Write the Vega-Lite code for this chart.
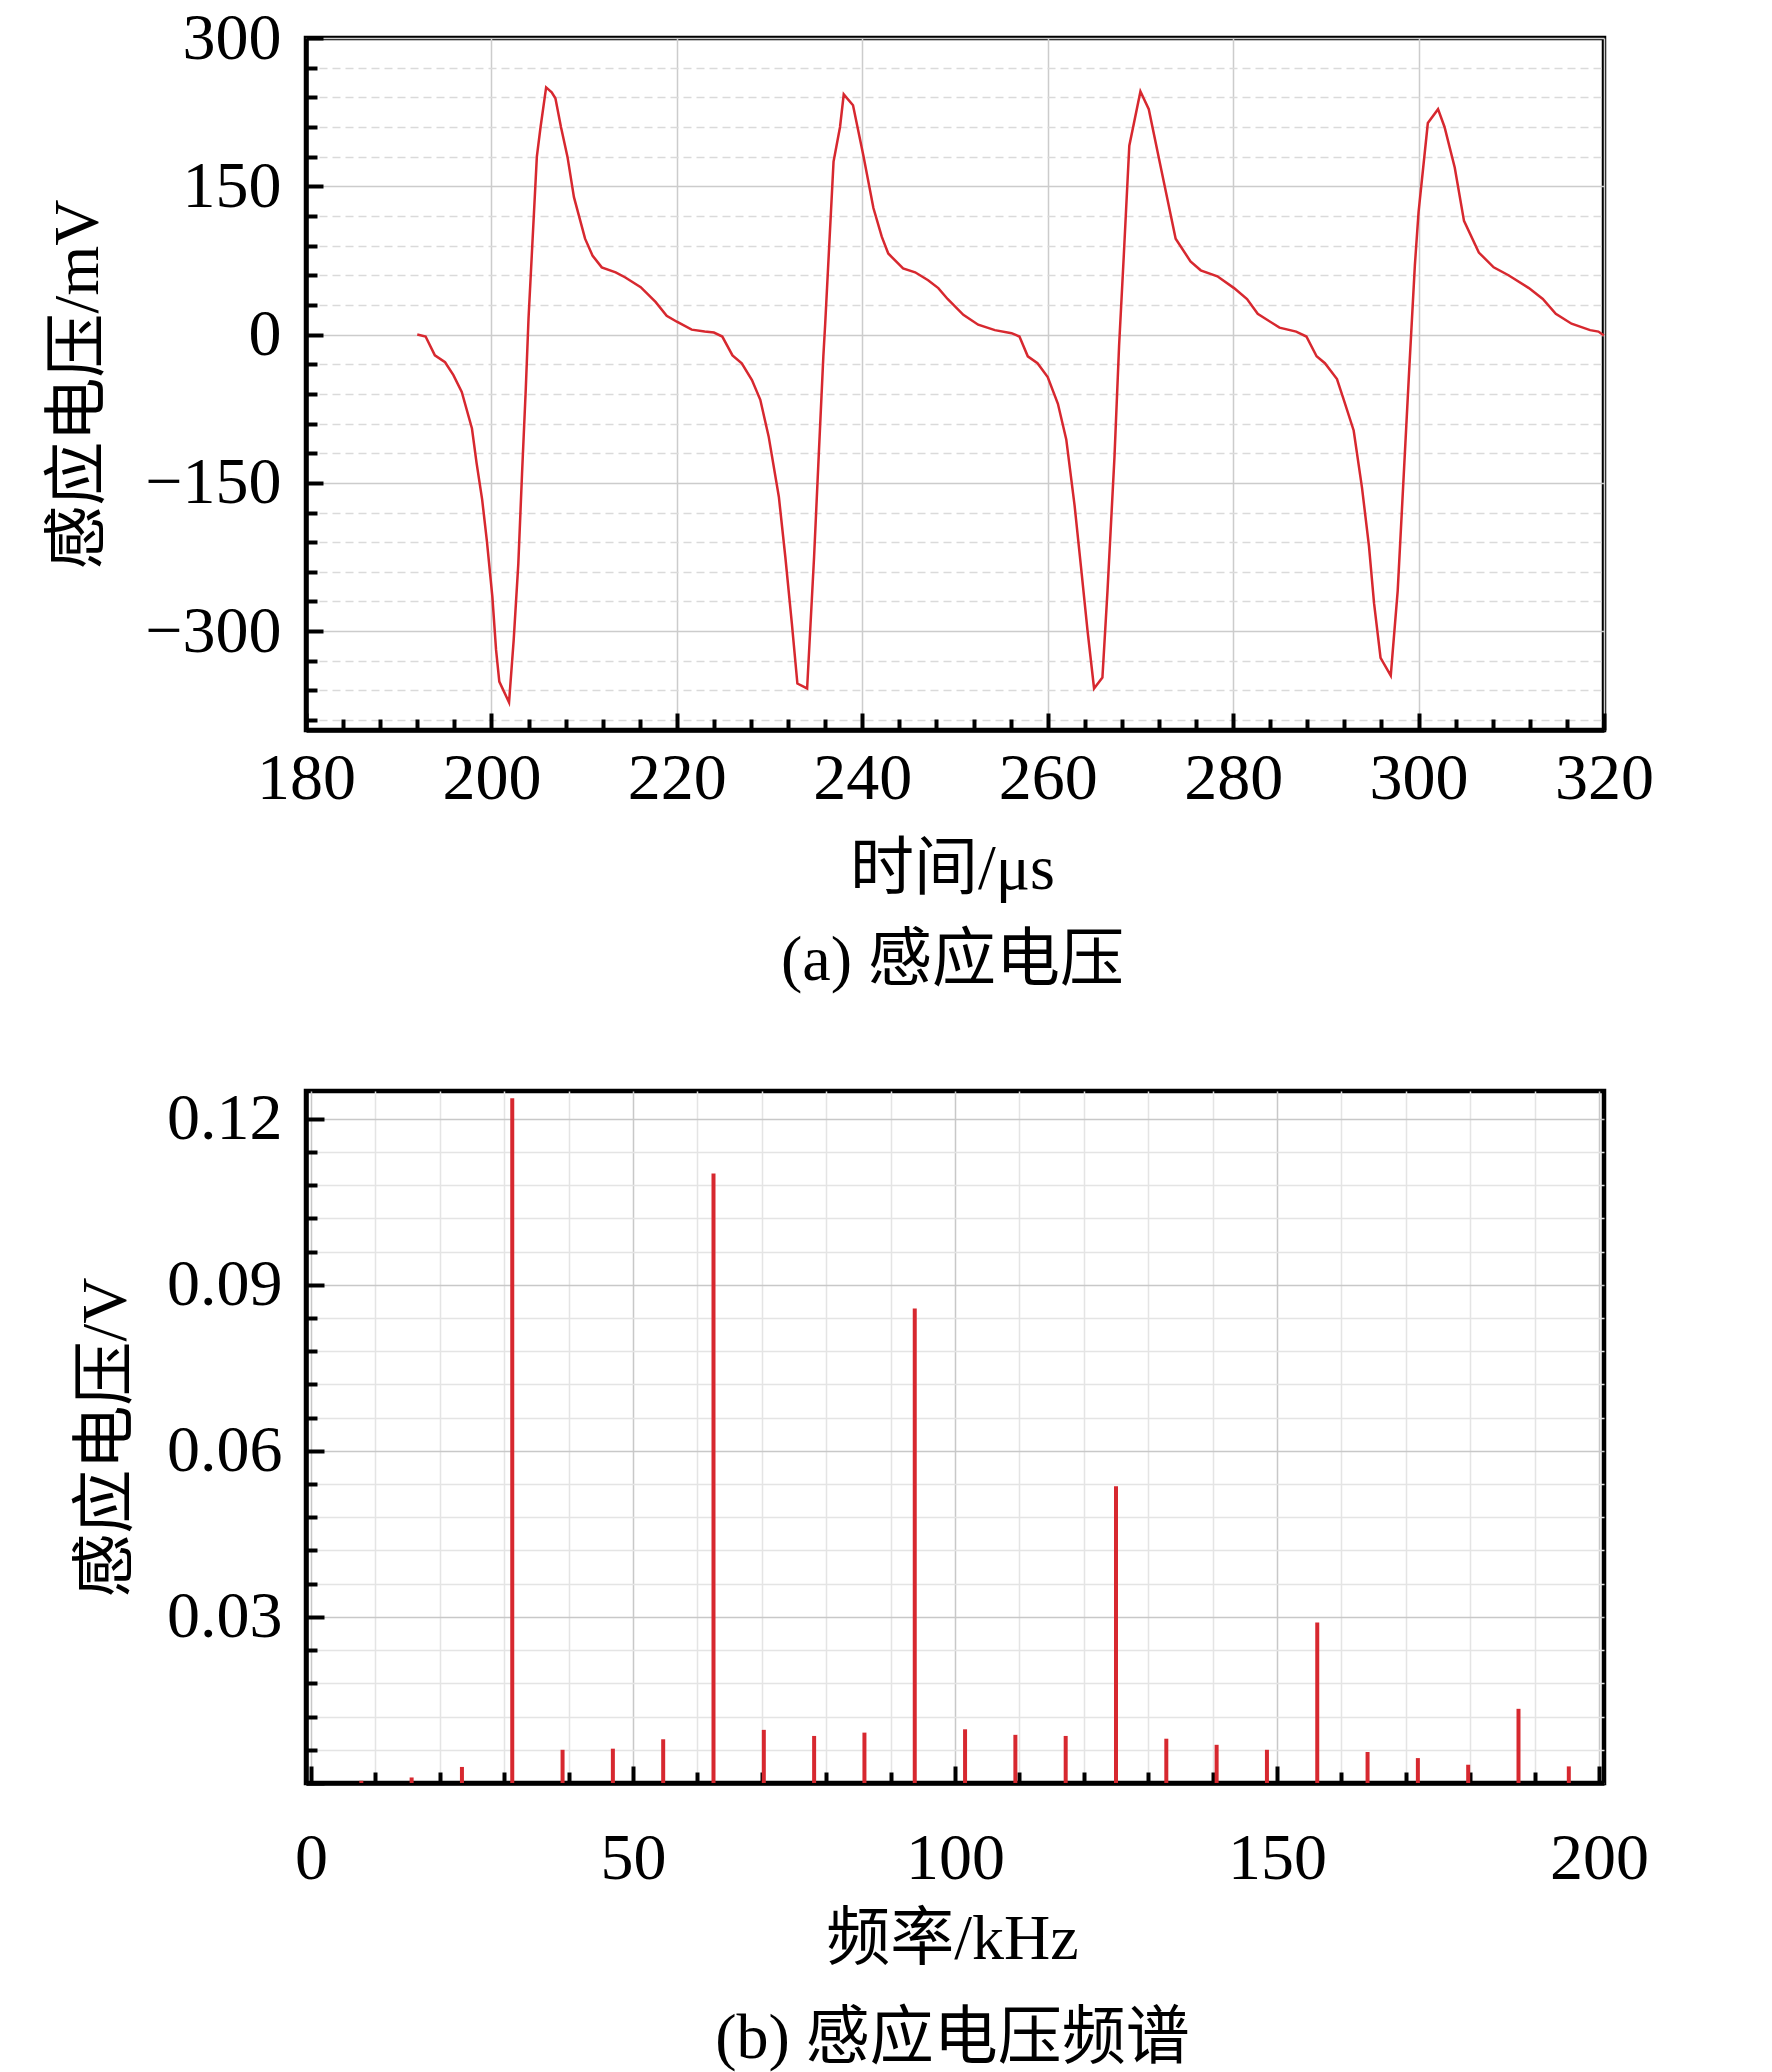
{
  "$schema": "https://vega.github.io/schema/vega-lite/v6.json",
  "background": "white",
  "padding": {"left": 43, "top": 2, "right": 10, "bottom": 5},
  "config": {
    "view": {"stroke": "black", "strokeWidth": 4.5},
    "axis": {
      "domainColor": "black",
      "domainWidth": 4.5,
      "tickColor": "black",
      "tickWidth": 4,
      "labelFont": "Liberation Serif",
      "labelFontSize": 66,
      "labelColor": "black",
      "titleFont": "Liberation Serif, Noto Sans CJK SC",
      "titleFontSize": 64,
      "titleFontWeight": "normal",
      "titleColor": "black",
      "gridWidth": 1.5
    }
  },
  "bounds": "flush",
  "spacing": 361,
  "datasets": {
    "wave": [
      {"t": 192.0, "v": 0}, {"t": 192.9, "v": -2}, {"t": 193.9, "v": -21}, {"t": 195.0, "v": -28},
      {"t": 195.9, "v": -41}, {"t": 196.8, "v": -58}, {"t": 197.9, "v": -95}, {"t": 198.4, "v": -130},
      {"t": 199.0, "v": -167}, {"t": 199.5, "v": -208}, {"t": 200.1, "v": -265}, {"t": 200.5, "v": -319},
      {"t": 200.85, "v": -351}, {"t": 201.9, "v": -372}, {"t": 202.4, "v": -309}, {"t": 202.9, "v": -232},
      {"t": 203.3, "v": -141}, {"t": 203.7, "v": -56}, {"t": 204.0, "v": 16}, {"t": 204.9, "v": 180},
      {"t": 205.3, "v": 210}, {"t": 205.9, "v": 250}, {"t": 206.5, "v": 245}, {"t": 206.9, "v": 239},
      {"t": 207.5, "v": 210}, {"t": 208.2, "v": 180}, {"t": 208.9, "v": 139}, {"t": 210.1, "v": 97},
      {"t": 210.9, "v": 80}, {"t": 211.9, "v": 68}, {"t": 213.4, "v": 63}, {"t": 214.4, "v": 58},
      {"t": 216.1, "v": 48}, {"t": 217.7, "v": 33}, {"t": 218.9, "v": 19}, {"t": 220.0, "v": 13},
      {"t": 221.6, "v": 5}, {"t": 223.0, "v": 3}, {"t": 224.0, "v": 2}, {"t": 224.9, "v": -2},
      {"t": 226.0, "v": -21}, {"t": 227.0, "v": -29}, {"t": 228.1, "v": -46}, {"t": 229.0, "v": -66},
      {"t": 229.9, "v": -103}, {"t": 231.0, "v": -164}, {"t": 231.7, "v": -225}, {"t": 232.4, "v": -292},
      {"t": 233.0, "v": -353}, {"t": 234.05, "v": -358}, {"t": 234.8, "v": -225}, {"t": 235.3, "v": -123},
      {"t": 235.8, "v": -22}, {"t": 236.0, "v": 11}, {"t": 236.9, "v": 175}, {"t": 237.6, "v": 210},
      {"t": 238.0, "v": 243}, {"t": 239.0, "v": 232}, {"t": 240.1, "v": 182}, {"t": 241.2, "v": 128},
      {"t": 242.1, "v": 99}, {"t": 242.8, "v": 82}, {"t": 244.4, "v": 67}, {"t": 245.7, "v": 63},
      {"t": 247.1, "v": 55}, {"t": 248.2, "v": 47}, {"t": 249.2, "v": 36}, {"t": 250.9, "v": 20},
      {"t": 252.5, "v": 10}, {"t": 254.3, "v": 4.5}, {"t": 256.1, "v": 1.4}, {"t": 256.95, "v": -2},
      {"t": 257.85, "v": -22}, {"t": 258.9, "v": -29}, {"t": 260.0, "v": -43}, {"t": 261.1, "v": -70},
      {"t": 262.0, "v": -106}, {"t": 262.9, "v": -173}, {"t": 263.6, "v": -236}, {"t": 264.3, "v": -300},
      {"t": 265.0, "v": -358}, {"t": 265.9, "v": -347}, {"t": 266.45, "v": -259}, {"t": 267.2, "v": -124},
      {"t": 267.7, "v": -11}, {"t": 268.2, "v": 79}, {"t": 268.8, "v": 191}, {"t": 270.0, "v": 246},
      {"t": 270.9, "v": 228}, {"t": 272.2, "v": 169}, {"t": 273.8, "v": 97}, {"t": 275.4, "v": 74},
      {"t": 276.5, "v": 65}, {"t": 278.3, "v": 59}, {"t": 280.1, "v": 47}, {"t": 281.5, "v": 36},
      {"t": 282.65, "v": 21}, {"t": 285.0, "v": 7}, {"t": 286.8, "v": 3}, {"t": 287.9, "v": -2},
      {"t": 289.0, "v": -22}, {"t": 289.9, "v": -29}, {"t": 291.2, "v": -45}, {"t": 291.9, "v": -65},
      {"t": 293.0, "v": -97}, {"t": 293.9, "v": -155}, {"t": 294.65, "v": -214}, {"t": 295.2, "v": -272},
      {"t": 295.9, "v": -327}, {"t": 297.0, "v": -345}, {"t": 297.75, "v": -259}, {"t": 298.5, "v": -124},
      {"t": 299.0, "v": -34}, {"t": 299.6, "v": 70}, {"t": 300.0, "v": 124}, {"t": 300.5, "v": 169},
      {"t": 301.0, "v": 214}, {"t": 302.1, "v": 228}, {"t": 302.8, "v": 210}, {"t": 303.9, "v": 169},
      {"t": 304.9, "v": 115}, {"t": 306.5, "v": 83}, {"t": 308.1, "v": 68}, {"t": 309.7, "v": 60},
      {"t": 311.9, "v": 47}, {"t": 313.4, "v": 36}, {"t": 314.8, "v": 21}, {"t": 316.5, "v": 11},
      {"t": 318.5, "v": 4.5}, {"t": 319.4, "v": 3}, {"t": 320.0, "v": -1}
    ],
    "spectrum": [
      {"f": 7.8125, "a": 0.0004}, {"f": 15.625, "a": 0.001}, {"f": 23.4375, "a": 0.0029},
      {"f": 31.25, "a": 0.1237}, {"f": 39.0625, "a": 0.006}, {"f": 46.875, "a": 0.0062},
      {"f": 54.6875, "a": 0.0079}, {"f": 62.5, "a": 0.1101}, {"f": 70.3125, "a": 0.0096},
      {"f": 78.125, "a": 0.0085}, {"f": 85.9375, "a": 0.0091}, {"f": 93.75, "a": 0.0857},
      {"f": 101.5625, "a": 0.0097}, {"f": 109.375, "a": 0.0087}, {"f": 117.1875, "a": 0.0085},
      {"f": 125.0, "a": 0.0536}, {"f": 132.8125, "a": 0.008}, {"f": 140.625, "a": 0.0069},
      {"f": 148.4375, "a": 0.006}, {"f": 156.25, "a": 0.029}, {"f": 164.0625, "a": 0.0056},
      {"f": 171.875, "a": 0.0045}, {"f": 179.6875, "a": 0.0033}, {"f": 187.5, "a": 0.0134},
      {"f": 195.3125, "a": 0.003}
    ]
  },
  "vconcat": [
    {
      "width": 1298,
      "height": 692,
      "data": {"name": "wave"},
      "mark": {"type": "line", "color": "#d7282f", "strokeWidth": 2.5},
      "encoding": {
        "x": {
          "field": "t", "type": "quantitative",
          "scale": {"domain": [180, 320], "nice": false, "zero": false},
          "axis": {
            "values": [180,184,188,192,196,200,204,208,212,216,220,224,228,232,236,240,244,248,252,256,260,264,268,272,276,280,284,288,292,296,300,304,308,312,316,320],
            "labelExpr": "datum.value % 20 === 0 ? datum.label : ''",
            "tickSize": {"condition": {"test": "datum.value % 20 === 0", "value": -17}, "value": -11},
            "labelPadding": 33,
            "labelFlush": false,
            "labelOverlap": false,
            "grid": true,
            "gridColor": "#cccccc",
            "gridOpacity": {"condition": {"test": "datum.value % 20 === 0", "value": 1}, "value": 0},
            "title": ["时间/μs", "(a) 感应电压"],
            "titleLineHeight": 91,
            "titleBaseline": "alphabetic",
            "titleX": 646,
            "titleY": 158
          }
        },
        "y": {
          "field": "v", "type": "quantitative",
          "scale": {"domain": [-400, 300], "nice": false, "zero": false},
          "axis": {
            "values": [-390,-360,-330,-300,-270,-240,-210,-180,-150,-120,-90,-60,-30,0,30,60,90,120,150,180,210,240,270,300],
            "labelExpr": "datum.value % 150 === 0 ? datum.label : ''",
            "tickSize": {"condition": {"test": "datum.value % 150 === 0", "value": -17}, "value": -11},
            "labelPadding": 42,
            "labelFlush": false,
            "labelOverlap": false,
            "grid": true,
            "gridColor": {"condition": {"test": "datum.value % 150 === 0", "value": "#cccccc"}, "value": "#dadada"},
            "gridDash": {"condition": {"test": "datum.value % 150 === 0", "value": []}, "value": [8, 5]},
            "title": "感应电压/mV",
            "titleBaseline": "alphabetic",
            "titleX": -209,
            "titleY": 346,
            "titleAngle": -90,
            "titleAlign": "center"
          }
        }
      }
    },
    {
      "width": 1298,
      "height": 692,
      "data": {"name": "spectrum"},
      "mark": {"type": "bar", "color": "#d7282f", "width": 4},
      "encoding": {
        "x": {
          "field": "f", "type": "quantitative",
          "scale": {"domain": [0, 200], "nice": false},
          "axis": {
            "values": [0,10,20,30,40,50,60,70,80,90,100,110,120,130,140,150,160,170,180,190,200],
            "labelExpr": "datum.value % 50 === 0 ? datum.label : ''",
            "tickSize": {"condition": {"test": "datum.value % 50 === 0", "value": -17}, "value": -11},
            "labelPadding": 60,
            "labelFlush": false,
            "labelOverlap": false,
            "grid": true,
            "gridColor": {"condition": {"test": "datum.value % 50 === 0", "value": "#c8c8c8"}, "value": "#e4e4e4"},
            "title": ["频率/kHz", "(b) 感应电压频谱"],
            "titleLineHeight": 99,
            "titleBaseline": "alphabetic",
            "titleX": 646,
            "titleY": 175
          }
        },
        "y": {
          "field": "a", "type": "quantitative",
          "scale": {"domain": [0, 0.125], "nice": false},
          "axis": {
            "values": [0,0.006,0.012,0.018,0.024,0.03,0.036,0.042,0.048,0.054,0.06,0.066,0.072,0.078,0.084,0.09,0.096,0.102,0.108,0.114,0.12],
            "labelExpr": "datum.value > 0 && round(datum.value * 1000) % 30 === 0 ? format(datum.value, '.2f') : ''",
            "tickSize": {"condition": {"test": "round(datum.value * 1000) % 30 === 0", "value": -18}, "value": -11},
            "labelPadding": 42,
            "labelFlush": false,
            "labelOverlap": false,
            "grid": true,
            "gridColor": {"condition": {"test": "round(datum.value * 1000) % 30 === 0", "value": "#c8c8c8"}, "value": "#e4e4e4"},
            "title": "感应电压/V",
            "titleBaseline": "alphabetic",
            "titleX": -181,
            "titleY": 346,
            "titleAngle": -90,
            "titleAlign": "center"
          }
        }
      }
    }
  ]
}
